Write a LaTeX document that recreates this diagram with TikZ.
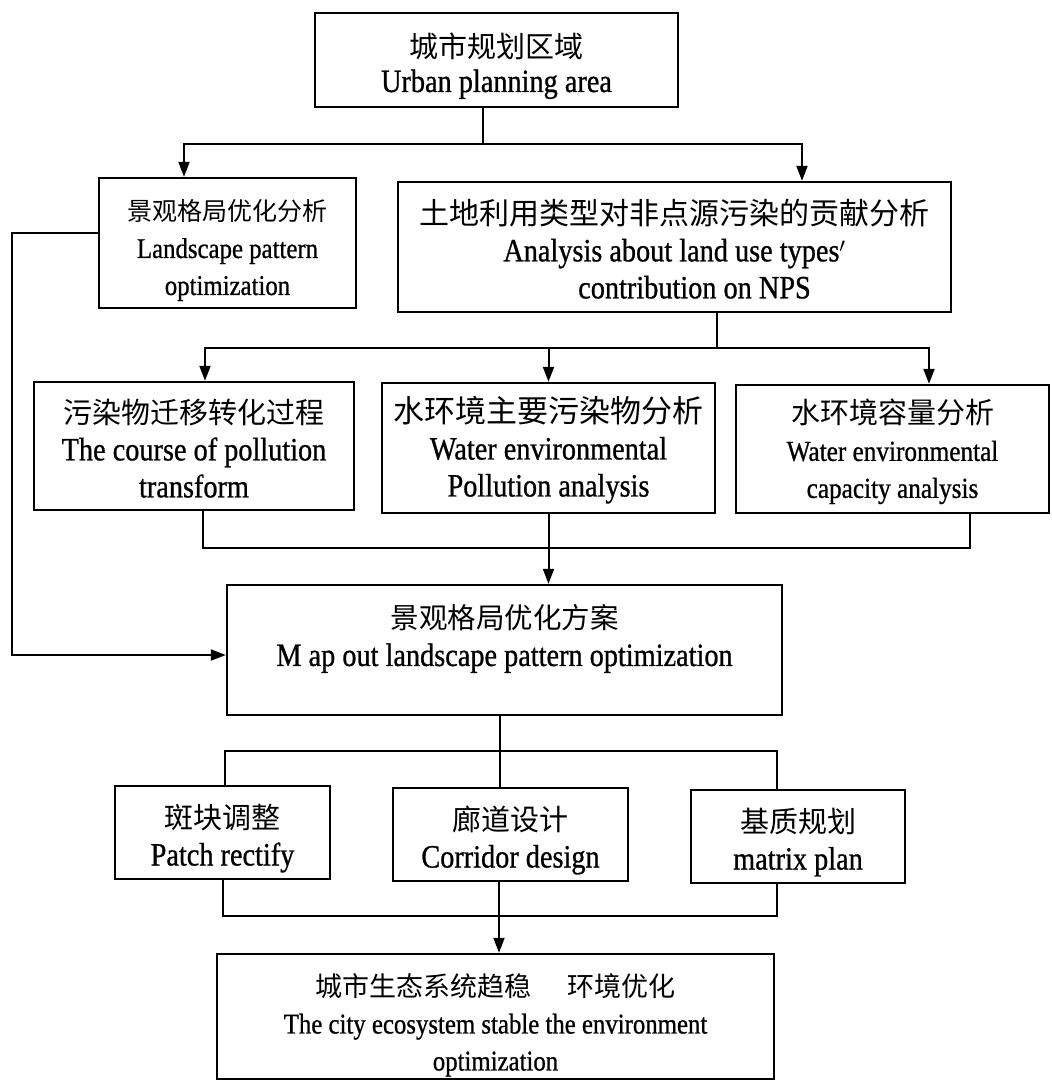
\documentclass[tikz,border=0pt]{standalone}
\usepackage{fontspec}
\usetikzlibrary{arrows.meta,calc}
\newfontfamily\cjk{Noto Sans CJK SC}
\newfontfamily\enf{Liberation Serif}[FakeStretch=0.87,FakeBold=0.8]
\newcommand{\zhtxt}[3][35]{{\rule{0pt}{#1pt}\cjk\fontsize{#2}{37}\selectfont #3}}
\newcommand{\entxt}[2]{{\enf\fontsize{#1}{37}\selectfont #2}}
\tikzset{
  box/.style={draw=black, line width=2.4pt, inner sep=0pt, align=center, rectangle,
              font=\fontsize{29}{37}\selectfont},
  conn/.style={draw=black, line width=2pt},
  arr/.style={conn, -{Triangle[length=15pt,width=11pt]}},
}
\begin{document}
\begin{tikzpicture}[x=1pt,y=-1pt]
\useasboundingbox[fill=white] (0,0) rectangle (1052,1082);

\node[box, minimum width=363pt, minimum height=94pt] (top) at (496.5,60)
  {\zhtxt[37]{29}{城市规划区域}\\[-3pt]\entxt{32.5}{Urban planning area}};
\node[box, minimum width=257pt, minimum height=130pt] (land) at (227.5,243)
  {\zhtxt[36]{25}{景观格局优化分析}\\\entxt{28.5}{Landscape pattern}\\\entxt{28.5}{optimization}};
\node[box, minimum width=553pt, minimum height=130pt] (nps) at (674.5,247)
  {\zhtxt[29]{30}{土地利用类型对非点源污染的贡献分析}\\\entxt{32.5}{Analysis about land use types$'$}\\\entxt{32.5}{\hspace*{40pt}contribution on NPS}};
\node[box, minimum width=320pt, minimum height=128pt] (p1) at (194,446)
  {\zhtxt[29]{29}{污染物迁移转化过程}\\\entxt{32.5}{The course of pollution}\\\entxt{32.5}{transform}};
\node[box, minimum width=333pt, minimum height=130pt] (p2) at (548.5,448)
  {\zhtxt[30]{31}{水环境主要污染物分析}\\\entxt{32.5}{Water environmental}\\\entxt{32.5}{Pollution analysis}};
\node[box, minimum width=313pt, minimum height=128pt] (p3) at (892.5,449)
  {\zhtxt[30]{29}{水环境容量分析}\\\entxt{29}{Water environmental}\\\entxt{29}{capacity analysis}};
\node[box, minimum width=555pt, minimum height=130pt] (main) at (504.5,650)
  {\zhtxt[43]{28.5}{景观格局优化方案}\\\entxt{32.5}{M ap out landscape pattern optimization}\\\strut};
\node[box, minimum width=215pt, minimum height=93pt] (b1) at (222.5,832.5)
  {\zhtxt[36]{29}{斑块调整}\\\entxt{32.5}{Patch rectify}};
\node[box, minimum width=235pt, minimum height=93pt] (b2) at (510.5,834.5)
  {\zhtxt[36]{29}{廊道设计}\\\entxt{32.5}{Corridor design}};
\node[box, minimum width=214pt, minimum height=93pt] (b3) at (798,836.5)
  {\zhtxt[36]{29}{基质规划}\\\entxt{32.5}{matrix plan}};
\node[box, minimum width=557pt, minimum height=125pt] (final) at (495.5,1016.5)
  {\zhtxt[40]{27}{城市生态系统趋稳\hspace{1.3em}环境优化}\\\entxt{28.5}{The city ecosystem stable the environment}\\\entxt{28.5}{optimization}};

% top -> land, nps
\draw[conn] ([xshift=-13.5pt]top.south) -- ++(0,36) coordinate (j1);
\draw[arr] (j1) -| ([xshift=-43.5pt]land.north);
\draw[arr] (j1) -| ([xshift=127.5pt]nps.north);

% land -> main (left bypass)
\draw[arr] ([yshift=10pt]land.west) -- ++(-86,0) |- ([yshift=-5pt]main.west);

% nps -> p1, p2, p3
\draw[conn] ([xshift=42.5pt]nps.south) -- ++(0,35) coordinate (j2);
\draw[arr] (j2) -| ([xshift=11pt]p1.north);
\draw[arr] (j2) -| ([xshift=36.5pt]p3.north);
\draw[arr] (j2 -| p2.north) -- (p2.north);

% p1, p3 collector; p2 -> main
\draw[conn] ([xshift=9pt]p1.south) -- ++(0,37) -| ([xshift=77.5pt]p3.south);
\draw[arr] (p2.south) -- (p2.south |- main.north);

% main -> b1, b2, b3
\draw[conn] ([xshift=-4.5pt]main.south) -- ([xshift=-4.5pt]main.south |- b2.north);
\draw[conn] ([xshift=2.5pt]b1.north) -- ++(0,-34) -| ([xshift=-21pt]b3.north);

% b1, b3 collector; b2 -> final
\draw[conn] ([xshift=0.5pt]b1.south) -- ++(0,36) -| ([xshift=-21pt]b3.south);
\draw[arr] ([xshift=-11.5pt]b2.south) -- ([xshift=-11.5pt]b2.south |- final.north);
\end{tikzpicture}
\end{document}
